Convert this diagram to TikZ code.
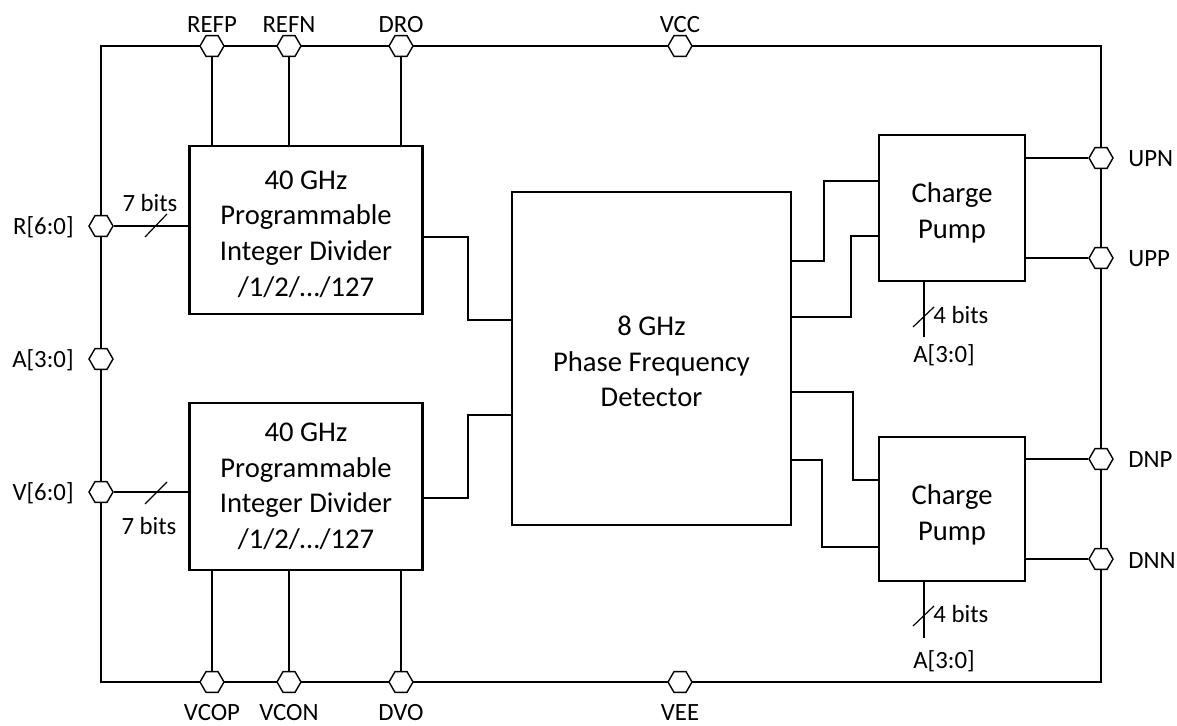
\documentclass[tikz,border=0pt]{standalone}
\usepackage{fontspec}
\setmainfont{Carlito}
\usetikzlibrary{shapes.geometric,calc}
\begin{document}
\begin{tikzpicture}[x=0.5pt,y=-0.5pt,
 pin/.style={regular polygon, regular polygon sides=6, minimum size=12pt, inner sep=0pt, draw, fill=white, line width=0.7pt},
 blk/.style={draw, line width=1.4pt, inner sep=0pt},
 txt/.style={inner sep=0pt, align=center, font=\fontsize{14.3}{17.8}\selectfont},
 wire/.style={line width=0.85pt},
 tick/.style={line width=0.6pt},
 lbl/.style={font=\fontsize{12.4}{15}\selectfont, inner sep=0pt}]
\useasboundingbox (0,0) rectangle (1177,726);
% frame corners
\coordinate (tl) at (101,46);
\coordinate (br) at (1101,682);
\draw[wire] (tl) rectangle (br);

% blocks
\node[blk, minimum width=116.5pt, minimum height=84pt] (div1) at (306,230) {};
\node[txt] (div1t) at ($(div1.center)+(0,4)$) {40 GHz\\Programmable\\Integer Divider\\/1/2/…/127};
\node[blk, minimum width=116.5pt, minimum height=83.5pt] (div2) at (306,486.5) {};
\node[txt] (div2t) at ($(div2.center)+(0,0)$) {40 GHz\\Programmable\\Integer Divider\\/1/2/…/127};
\node[blk, minimum width=139.5pt, minimum height=166.5pt] (pfd) at (651.5,358.5) {};
\node[txt] (pfdt) at ($(pfd.center)+(0,3)$) {8 GHz\\Phase Frequency\\Detector};
\node[blk, minimum width=73pt, minimum height=73pt] (cp1) at (952,208) {};
\node[txt] (cp1t) at ($(cp1.center)+(0,5)$) {Charge\\Pump};
\node[blk, minimum width=73pt, minimum height=72pt] (cp2) at (952,509) {};
\node[txt] (cp2t) at ($(cp2.center)+(0,6)$) {Charge\\Pump};

% pins
\node[pin] (refp) at (212,46) {};
\node[pin] (refn) at (289,46) {};
\node[pin] (dro) at (401,46) {};
\node[pin] (vcc) at (680,46) {};
\node[pin] (vcop) at (212,682) {};
\node[pin] (vcon) at (289,682) {};
\node[pin] (dvo) at (401,682) {};
\node[pin] (vee) at (680,682) {};
\node[pin] (rpin) at (101,226) {};
\node[pin] (apin) at (101,359) {};
\node[pin] (vpin) at (101,492) {};
\node[pin] (upn) at (1101,158) {};
\node[pin] (upp) at (1101,258) {};
\node[pin] (dnp) at (1101,459) {};
\node[pin] (dnn) at (1101,559) {};

% pin labels
\node[lbl, anchor=base] (lrefp) at ($(refp)+(0,-13)$) {REFP};
\node[lbl, anchor=base] (lrefn) at ($(refn)+(0,-13)$) {REFN};
\node[lbl, anchor=base] (ldro) at ($(dro)+(0,-13)$) {DRO};
\node[lbl, anchor=base] (lvcc) at ($(vcc)+(0,-13)$) {VCC};
\node[lbl, anchor=base] (lvcop) at ($(vcop)+(0,38)$) {VCOP};
\node[lbl, anchor=base] (lvcon) at ($(vcon)+(0,38)$) {VCON};
\node[lbl, anchor=base] (ldvo) at ($(dvo)+(0,38)$) {DVO};
\node[lbl, anchor=base] (lvee) at ($(vee)+(0,38)$) {VEE};
\node[lbl, anchor=base east] (lr) at ($(rpin)+(-27,9)$) {R[6:0]};
\node[lbl, anchor=base east] (la) at ($(apin)+(-27,9)$) {A[3:0]};
\node[lbl, anchor=base east] (lv) at ($(vpin)+(-27,9)$) {V[6:0]};
\node[lbl, anchor=base west] (lupn) at ($(upn)+(27,9)$) {UPN};
\node[lbl, anchor=base west] (lupp) at ($(upp)+(27,9)$) {UPP};
\node[lbl, anchor=base west] (ldnp) at ($(dnp)+(27,9)$) {DNP};
\node[lbl, anchor=base west] (ldnn) at ($(dnn)+(27,9)$) {DNN};

% top / bottom connections
\draw[wire] (refp) -- (refp |- div1.north);
\draw[wire] (refn) -- (refn |- div1.north);
\draw[wire] (dro) -- (dro |- div1.north);
\draw[wire] (vcop) -- (vcop |- div2.south);
\draw[wire] (vcon) -- (vcon |- div2.south);
\draw[wire] (dvo) -- (dvo |- div2.south);

% bus inputs
\draw[wire] (rpin) -- (rpin -| div1.west);
\draw[tick] (145,237) -- (167,214);
\node[lbl] (b7a) at (150,203) {7 bits};
\draw[wire] (vpin) -- (vpin -| div2.west);
\draw[tick] (145,504) -- (167,482);
\node[lbl] (b7b) at (149,526) {7 bits};

% divider -> PFD
\draw[wire] (div1.east |- 0,237) -- (468,237) -- (468,320) -- (pfd.west |- 0,320);
\draw[wire] (div2.east |- 0,498) -- (468,498) -- (468,415) -- (pfd.west |- 0,415);

% PFD -> charge pumps
\draw[wire] (pfd.east |- 0,261) -- (824,261) -- (824,181) -- (cp1.west |- 0,181);
\draw[wire] (pfd.east |- 0,317) -- (851,317) -- (851,236) -- (cp1.west |- 0,236);
\draw[wire] (pfd.east |- 0,392) -- (853,392) -- (853,480) -- (cp2.west |- 0,480);
\draw[wire] (pfd.east |- 0,460) -- (822,460) -- (822,547) -- (cp2.west |- 0,547);

% charge pumps -> outputs
\draw[wire] (cp1.east |- upn) -- (upn);
\draw[wire] (cp1.east |- upp) -- (upp);
\draw[wire] (cp2.east |- dnp) -- (dnp);
\draw[wire] (cp2.east |- dnn) -- (dnn);

% 4-bit control buses
\coordinate (a1) at (924,337);
\draw[wire] (cp1.south -| a1) -- (a1);
\draw[tick] (913,327) -- (934,307);
\node[lbl, anchor=west] (b4a) at (933,315) {4 bits};
\node[lbl] (aa) at (944,355) {A[3:0]};
\coordinate (a2) at (924,638);
\draw[wire] (cp2.south -| a2) -- (a2);
\draw[tick] (913,626) -- (934,606);
\node[lbl, anchor=west] (b4b) at (933,614) {4 bits};
\node[lbl] (ab) at (944,661) {A[3:0]};
\end{tikzpicture}
\end{document}
